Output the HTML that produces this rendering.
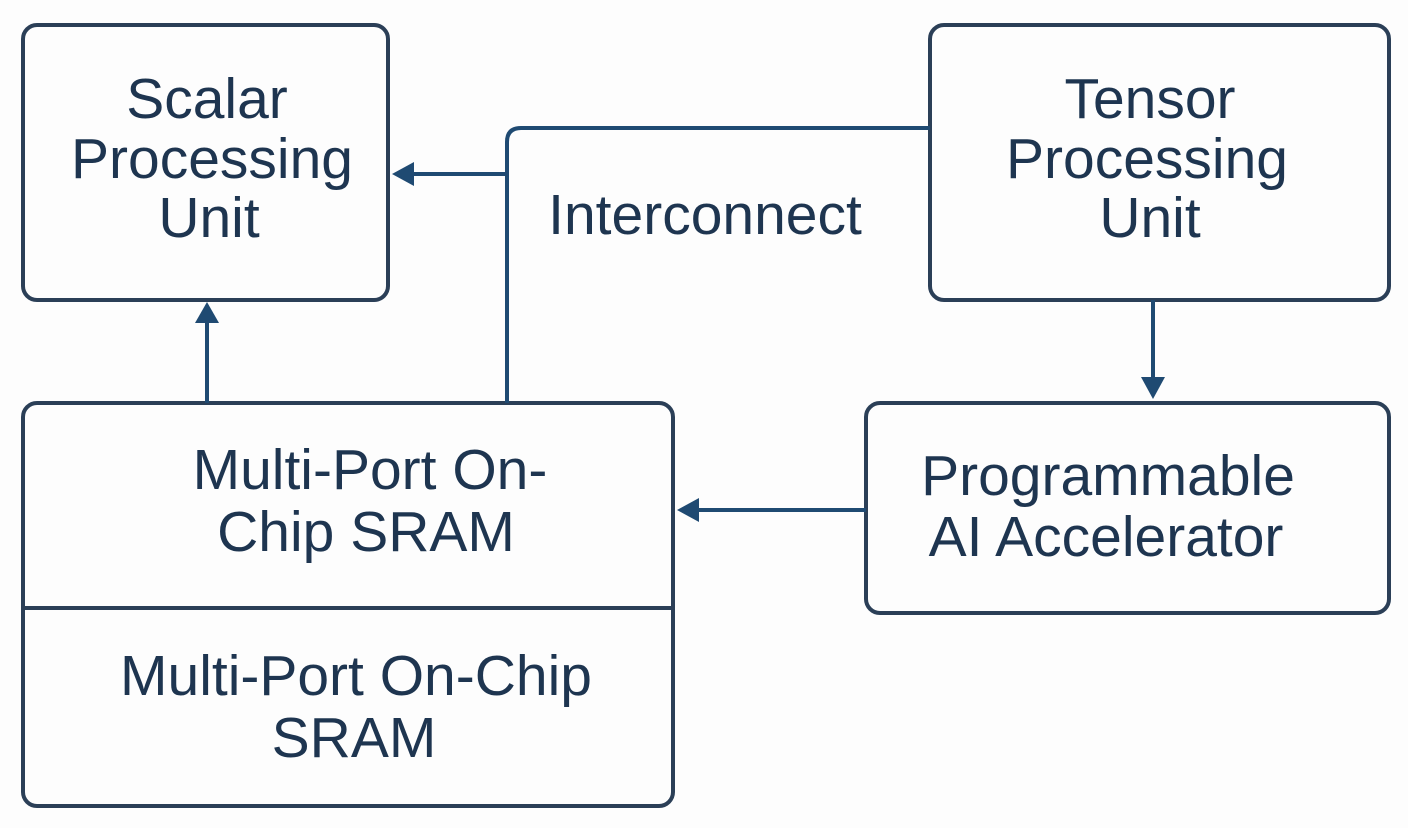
<!DOCTYPE html>
<html><head><style>
body{margin:0;background:#fdfdfd;}
svg{display:block}
text{font-family:"Liberation Sans",sans-serif;font-size:57px;fill:#1e3550;text-anchor:middle}
</style></head><body>
<svg width="1408" height="828" viewBox="0 0 1408 828">
<g fill="none" stroke="#2b3f57" stroke-width="4">
<rect x="23" y="25" width="365" height="275" rx="14"/>
<rect x="930" y="25" width="459" height="275" rx="14"/>
<rect x="866" y="403" width="523" height="210" rx="14"/>
<rect x="23" y="403" width="650" height="403" rx="14"/>
<line x1="23" y1="608" x2="673" y2="608"/>
</g>
<g fill="none" stroke="#1f4a72" stroke-width="4">
<path d="M507 403 V142 Q507 128 521 128 H930"/>
<line x1="507" y1="174" x2="405" y2="174"/>
<line x1="207" y1="403" x2="207" y2="315"/>
<line x1="1153" y1="300" x2="1153" y2="385"/>
<line x1="866" y1="510" x2="692" y2="510"/>
</g>
<g fill="#1f4a72">
<polygon points="392,174 414,162 414,186"/>
<polygon points="207,302 195,323 219,323"/>
<polygon points="1153,399 1141,377 1165,377"/>
<polygon points="677,510 699,498 699,522"/>
</g>
<text x="207" y="118">Scalar</text>
<text x="212" y="178">Processing</text>
<text x="209" y="237">Unit</text>
<text x="1150" y="118">Tensor</text>
<text x="1147" y="178">Processing</text>
<text x="1150" y="237">Unit</text>
<text x="705" y="234">Interconnect</text>
<text x="1108" y="495">Programmable</text>
<text x="1106" y="556">AI Accelerator</text>
<text x="370" y="489">Multi-Port On-</text>
<text x="366" y="551">Chip SRAM</text>
<text x="356" y="695">Multi-Port On-Chip</text>
<text x="354" y="757">SRAM</text>
</svg>
</body></html>
